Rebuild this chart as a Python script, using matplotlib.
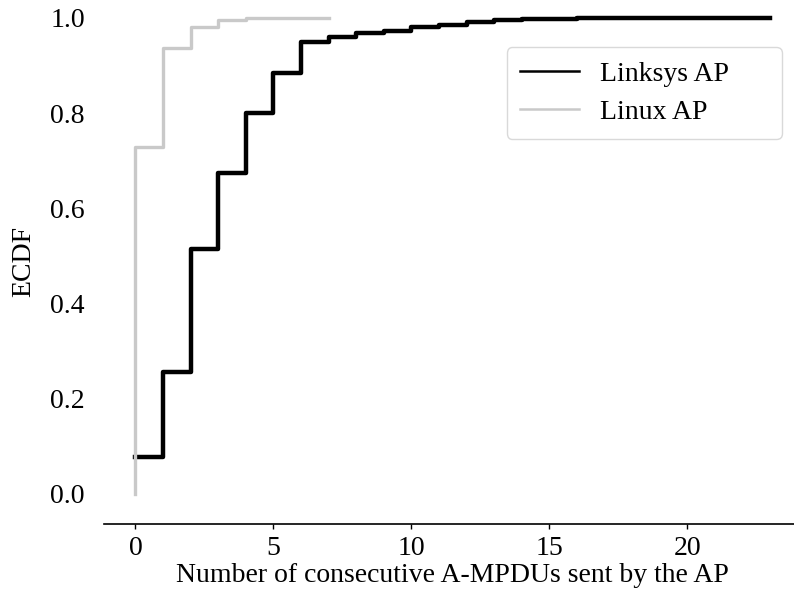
import matplotlib
matplotlib.use("Agg")
import matplotlib.pyplot as plt
from matplotlib.lines import Line2D

plt.rcParams['font.family'] = ['Liberation Serif', 'DejaVu Serif']

# ECDF values at each count of consecutive A-MPDUs
linksys_counts = list(range(0, 24))
linksys_ecdf = [0.077, 0.257, 0.514, 0.675, 0.800, 0.885, 0.949, 0.960,
                0.968, 0.973, 0.980, 0.985, 0.992, 0.996, 0.998, 0.9985,
                0.999, 0.999, 0.9993, 0.9995, 0.9997, 0.9998, 0.9999, 1.0]

linux_counts = list(range(0, 8))
linux_ecdf = [0.729, 0.936, 0.982, 0.996, 0.999, 0.9995, 0.9998, 1.0]

series_labels = ['Linksys AP', 'Linux AP']
series_colors = ['#000000', '#c9c9c9']

fig = plt.figure(figsize=(7.94, 5.90), dpi=100)
ax = fig.add_axes([0.1306, 0.1224, 0.8795, 0.8875])

ax.step(linksys_counts, linksys_ecdf,
        where='post', color=series_colors[0], lw=3.2, zorder=2)
# the Linux curve rises from zero at the first count
ax.step([linux_counts[0]] + linux_counts, [0.0] + linux_ecdf,
        where='post', color=series_colors[1], lw=2.4, zorder=3)

ax.set_xlim(-1.15, 24.15)
ax.set_ylim(-0.05, 1.05)
ax.set_xticks([0, 5, 10, 15, 20])
ax.set_yticks([0.0, 0.2, 0.4, 0.6, 0.8, 1.0])
ax.set_yticklabels(['0.0', '0.2', '0.4', '0.6', '0.8', '1.0'])

for side in ['top', 'right', 'left']:
    ax.spines[side].set_visible(False)
ax.spines['bottom'].set_position(('outward', 4.5))
ax.spines['bottom'].set_linewidth(1.2)

ax.tick_params(axis='x', length=3.6, width=1.0, labelsize=20, pad=5)
ax.tick_params(axis='y', length=0, labelsize=20, pad=13.5)

ax.set_xlabel('Number of consecutive A-MPDUs sent by the AP', fontsize=20,
              labelpad=1.5)
ax.set_ylabel('ECDF', fontsize=20)
ax.yaxis.set_label_coords(-0.096, 0.49)

handles = [Line2D([], [], color=c, lw=1.8) for c in series_colors]
leg = ax.legend(handles, series_labels, loc='upper left',
                bbox_to_anchor=(0.638, 0.0, 0.3463, 0.9198),
                bbox_transform=fig.transFigure, mode='expand',
                fontsize=20, frameon=True, fancybox=True, framealpha=1.0,
                handlelength=2.1, handletextpad=0.75, labelspacing=0.46,
                borderpad=0.5, borderaxespad=0.0)
leg.get_frame().set_edgecolor('#d9d9d9')
leg.get_frame().set_linewidth(1.0)

fig.savefig('out.png', dpi=100)
